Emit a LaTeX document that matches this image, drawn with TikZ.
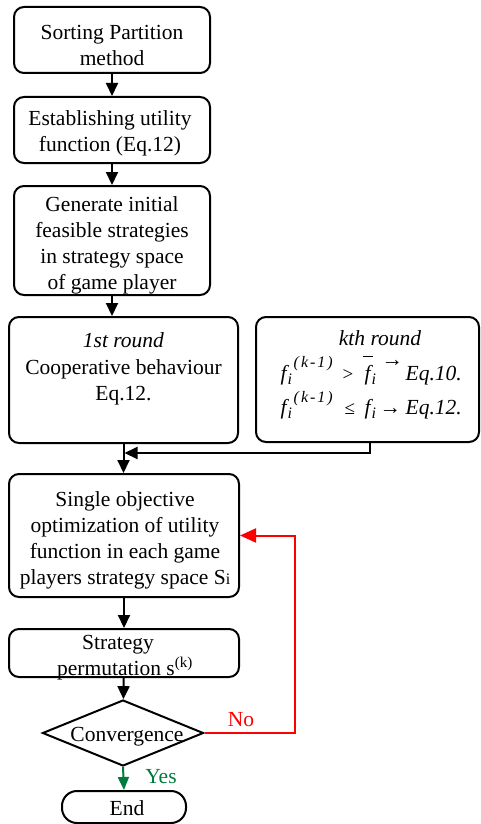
\documentclass[tikz,border=0pt]{standalone}
\usepackage{fontspec}
\setmainfont{Liberation Serif}
\usetikzlibrary{shapes.geometric,arrows.meta}
\definecolor{yesgreen}{RGB}{0,122,61}
\newcommand{\fitsub}{\fontsize{16}{16}\selectfont\itshape}
\newcommand{\putat}[2]{\rlap{\hspace{#1}#2}}
\newcommand{\fkmpart}[1]{\putat{10pt}{\textit{f}}\putat{17pt}{\raisebox{-4pt}{\fitsub i}}\putat{23pt}{\raisebox{#1}{\fitsub (\hspace{2pt}k\hspace{2pt}-\hspace{2pt}1\hspace{2pt})}}}
\begin{document}
\begin{tikzpicture}[x=1pt,y=-1pt,
  font=\fontsize{21.5}{26}\selectfont,
  box/.style={draw, line width=2pt, rounded corners=10pt, inner sep=0pt, align=center},
  arr/.style={line width=2pt, -{Triangle[length=13pt,width=12pt]}},
  redarr/.style={line width=2pt, red, -{Triangle[length=16pt,width=14pt]}},
  greenarr/.style={line width=2pt, yesgreen, -{Triangle[length=13pt,width=11pt]}},
  txt/.style={inner sep=0pt, align=center}]
\useasboundingbox (0,0) rectangle (480,824);

\node[box, minimum width=196pt, minimum height=66pt] (sort) at (112,40) {};
\node[txt] (sortT) at (112,45) {Sorting Partition\\method};
\node[box, minimum width=196pt, minimum height=66pt] (util) at (112,130) {};
\node[txt] (utilT) at (110,133) {Establishing utility\\function (Eq.12)};
\node[box, minimum width=196pt, minimum height=109pt] (gen) at (112,240.5) {};
\node[txt] (genT) at (112,245.5) {Generate initial\\feasible strategies\\in strategy space\\of game player};

\node[box, minimum width=229pt, minimum height=126pt] (first) at (123.5,380) {};
\node[txt, anchor=base] (firstA) at (123.5,347) {\textit{1st round}};
\node[txt, anchor=base] (firstB) at (123.5,374) {Cooperative behaviour};
\node[txt, anchor=base] (firstC) at (123.5,400) {Eq.12.};

\node[box, minimum width=223pt, minimum height=125pt] (kth) at (367.5,379.5) {};
\node[txt, anchor=base] (kthA) at (380,345) {\textit{kth round}};
\node[txt, anchor=base west] (kthB) at (270,380) {\fkmpart{13pt}\putat{72pt}{\fontsize{19}{19}\selectfont >}\putat{92pt}{\rule[23pt]{10pt}{0.9pt}}\putat{94pt}{\textit{f}}\putat{101pt}{\raisebox{-4pt}{\fitsub i}}\putat{111pt}{\raisebox{14pt}{→}}\putat{135pt}{\textit{Eq.10.}}};
\node[txt, anchor=base west] (kthC) at (270,414) {\fkmpart{12pt}\putat{74pt}{\fontsize{19}{19}\selectfont ≤}\putat{94pt}{\textit{f}}\putat{101pt}{\raisebox{-4pt}{\fitsub i}}\putat{109pt}{→}\putat{135pt}{\textit{Eq.12.}}};

\node[box, minimum width=230pt, minimum height=123pt] (opt) at (124,535.5) {};
\node[txt] (optT) at (125,540.5) {Single objective\\optimization of utility\\function in each game\\players strategy space S{\fontsize{16}{16}\selectfont i}};

\node[box, minimum width=230pt, minimum height=48pt] (perm) at (124,653) {};
\node[txt] (permT) at (125,657.5) {Strategy\hspace*{14pt}\\permutation s\textsuperscript{(k)}};

\node[draw, diamond, line width=2pt, aspect=2.44, minimum width=161pt, minimum height=66pt, inner sep=0pt] (conv) at (123,733) {};
\node[txt] (convT) at (127,737) {Convergence};

\node[draw, line width=2pt, rounded corners=15pt, minimum width=124pt, minimum height=32pt, inner sep=0pt] (end) at (124,807) {};
\node[txt] (endT) at (127,808) {End};

\node[txt, text=red] (no) at (241,720) {No};
\node[txt, text=yesgreen] (yes) at (161,777) {Yes};

\draw[arr] (sort) -- (util);
\draw[arr] (util) -- (gen);
\draw[arr] (gen.south) -- (gen.south |- first.north);
\draw[arr] (first.south) -- (first.south |- opt.north);
\coordinate (merge) at (124.5,453);
\draw[arr] ([xshift=2.5pt]kth.south) |- (merge);
\draw[arr] (opt) -- (perm);
\draw[arr] (perm) -- (conv);
\draw[redarr] (conv.east) -- ++(90,0) |- (opt.east);
\draw[greenarr] (conv.south) -- (end.north);
\end{tikzpicture}
\end{document}
